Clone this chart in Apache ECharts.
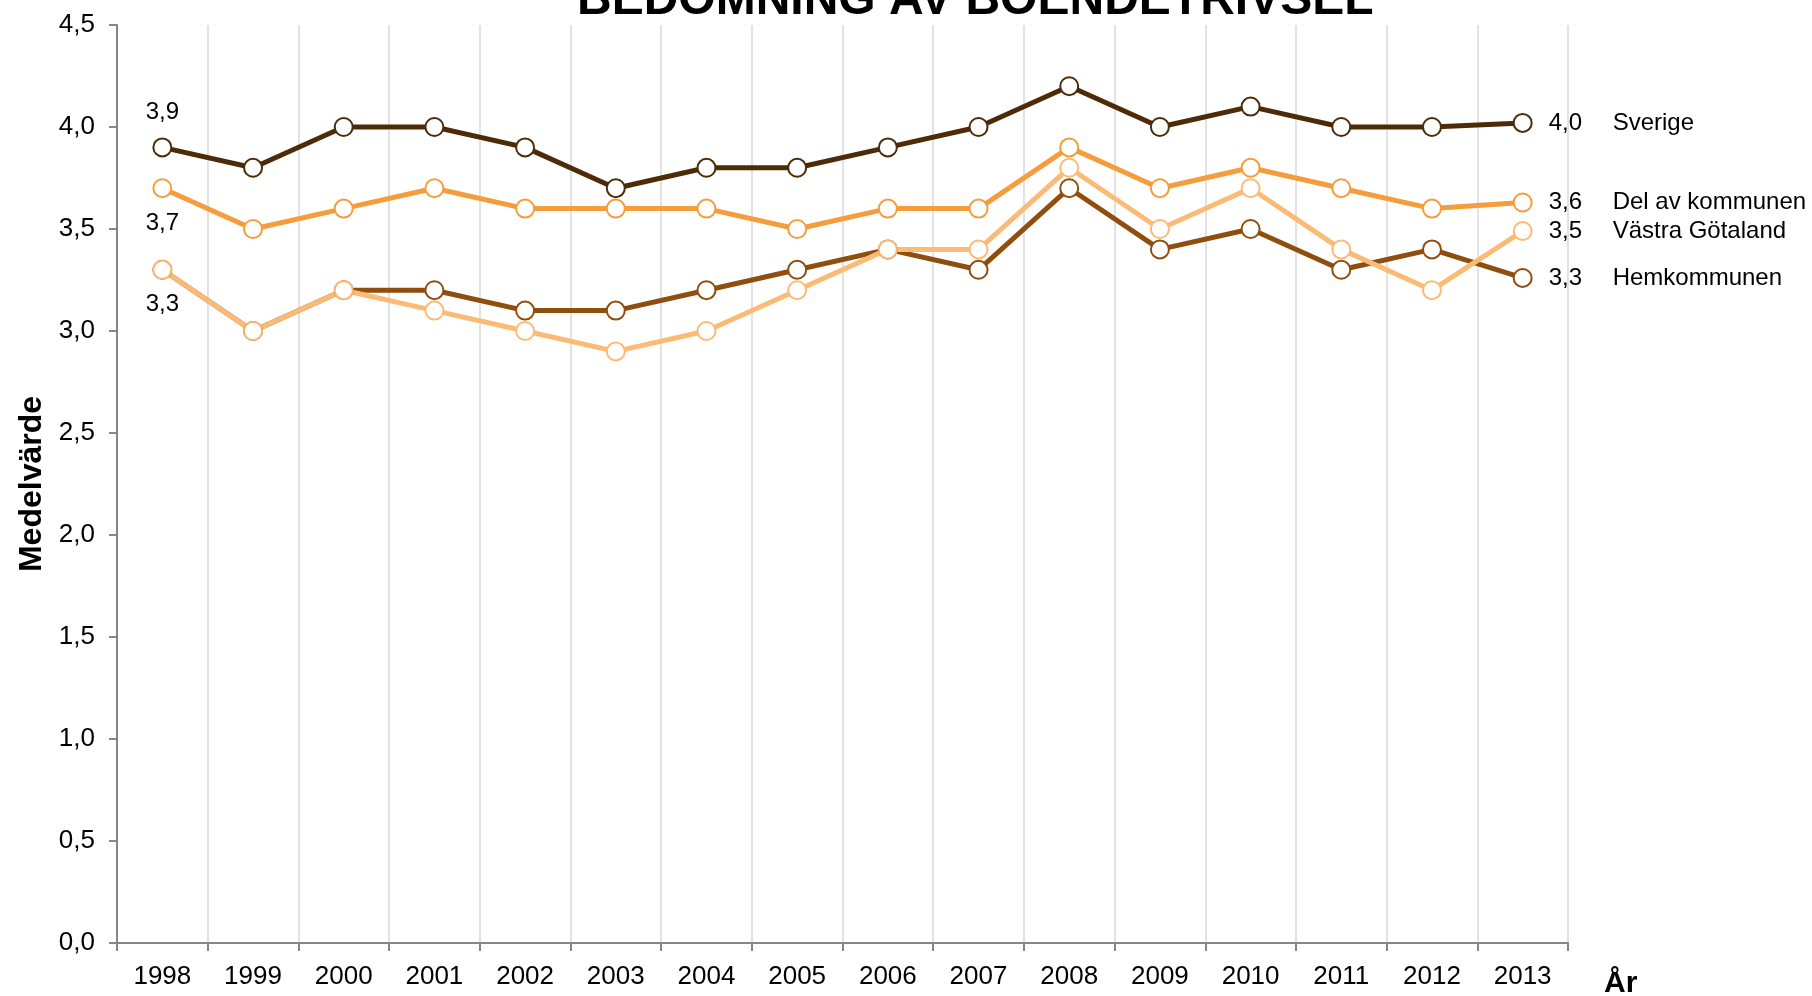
<!DOCTYPE html>
<html>
<head>
<meta charset="utf-8">
<script src="https://cdn.jsdelivr.net/npm/echarts@6/dist/echarts.min.js"></script>
<style>
  html, body { margin: 0; padding: 0; background: #fff; }
  #main { width: 1812px; height: 996px; }
</style>
</head>
<body>
<div id="main"></div>
<script>
  // data
  var years = ['1998', '1999', '2000', '2001', '2002', '2003', '2004', '2005',
               '2006', '2007', '2008', '2009', '2010', '2011', '2012', '2013'];
  var hemkommunen = [3.3, 3.0, 3.2, 3.2, 3.1, 3.1, 3.2, 3.3, 3.4, 3.3, 3.7, 3.4, 3.5, 3.3, 3.4, 3.26];
  var vastraGotaland = [3.3, 3.0, 3.2, 3.1, 3.0, 2.9, 3.0, 3.2, 3.4, 3.4, 3.8, 3.5, 3.7, 3.4, 3.2, 3.49];
  var delAvKommunen = [3.7, 3.5, 3.6, 3.7, 3.6, 3.6, 3.6, 3.5, 3.6, 3.6, 3.9, 3.7, 3.8, 3.7, 3.6, 3.63];
  var sverige = [3.9, 3.8, 4.0, 4.0, 3.9, 3.7, 3.8, 3.8, 3.9, 4.0, 4.2, 4.0, 4.1, 4.0, 4.0, 4.02];
  var yTicks = [0, 0.5, 1, 1.5, 2, 2.5, 3, 3.5, 4, 4.5];

  var FONT = '"Liberation Sans", Arial, sans-serif';

  function fmt(v) {
    return v.toFixed(1).replace('.', ',');
  }

  // first label: where to put it (or null), last label: value + name on the right
  function buildData(values, name, firstPos) {
    return values.map(function (v, i) {
      var item = { value: v };
      if (i === 0 && firstPos) {
        item.label = {
          show: true, position: firstPos, distance: 13,
          formatter: fmt(v), fontSize: 24, color: '#000', fontFamily: FONT
        };
      }
      if (i === values.length - 1) {
        item.label = {
          show: true, position: 'right', distance: 16,
          formatter: '{v|' + fmt(v) + '}{n|' + name + '}',
          rich: {
            v: { width: 64, fontSize: 24, color: '#000', fontFamily: FONT },
            n: { fontSize: 24, color: '#000', fontFamily: FONT }
          }
        };
      }
      return item;
    });
  }

  function lineSeries(name, values, color, firstPos) {
    return {
      name: name,
      type: 'line',
      data: buildData(values, name, firstPos),
      symbol: 'circle',
      symbolSize: 18,
      lineStyle: { color: color, width: 5 },
      itemStyle: { color: '#fff', borderColor: color, borderWidth: 2 },
      emphasis: { disabled: true },
      animation: false
    };
  }

  var myChart = echarts.init(document.getElementById('main'));

  var option = {
    backgroundColor: '#fff',
    title: {
      text: 'BEDÖMNING AV BOENDETRIVSEL',
      left: 572,
      top: -28,
      textStyle: { fontSize: 48, fontWeight: 'bold', color: '#000', fontFamily: FONT }
    },
    grid: { left: 117, right: 244, top: 25, bottom: 53, outerBoundsMode: 'none' },
    xAxis: {
      type: 'category',
      data: years,
      boundaryGap: true,
      name: 'År',
      nameLocation: 'end',
      nameGap: 36,
      nameTextStyle: {
        fontSize: 30, fontWeight: 'bold', color: '#000', fontFamily: FONT,
        verticalAlign: 'top', padding: [26, 0, 0, 0]
      },
      axisLine: { lineStyle: { color: '#868686', width: 2 } },
      axisTick: { show: true, length: 8, lineStyle: { color: '#868686', width: 2 } },
      axisLabel: { margin: 21, fontSize: 26, color: '#000', fontFamily: FONT },
      splitLine: { show: true, lineStyle: { color: '#d9d9d9', width: 1.5 } }
    },
    yAxis: {
      type: 'value',
      min: yTicks[0],
      max: yTicks[yTicks.length - 1],
      interval: 0.5,
      name: 'Medelvärde',
      nameLocation: 'middle',
      nameGap: 68,
      nameTextStyle: { fontSize: 32, fontWeight: 'bold', color: '#000', fontFamily: FONT },
      axisLine: { show: true, lineStyle: { color: '#868686', width: 2 } },
      axisTick: { show: true, length: 8, lineStyle: { color: '#868686', width: 2 } },
      axisLabel: { margin: 22, fontSize: 26, color: '#000', fontFamily: FONT, formatter: fmt },
      splitLine: { show: false }
    },
    series: [
      lineSeries('Hemkommunen', hemkommunen, '#8f4d0e', null),
      lineSeries('Västra Götaland', vastraGotaland, '#fbbb77', 'bottom'),
      lineSeries('Del av kommunen', delAvKommunen, '#f59c3c', 'bottom'),
      lineSeries('Sverige', sverige, '#4e2b08', 'top')
    ]
  };

  myChart.setOption(option);
</script>
</body>
</html>
